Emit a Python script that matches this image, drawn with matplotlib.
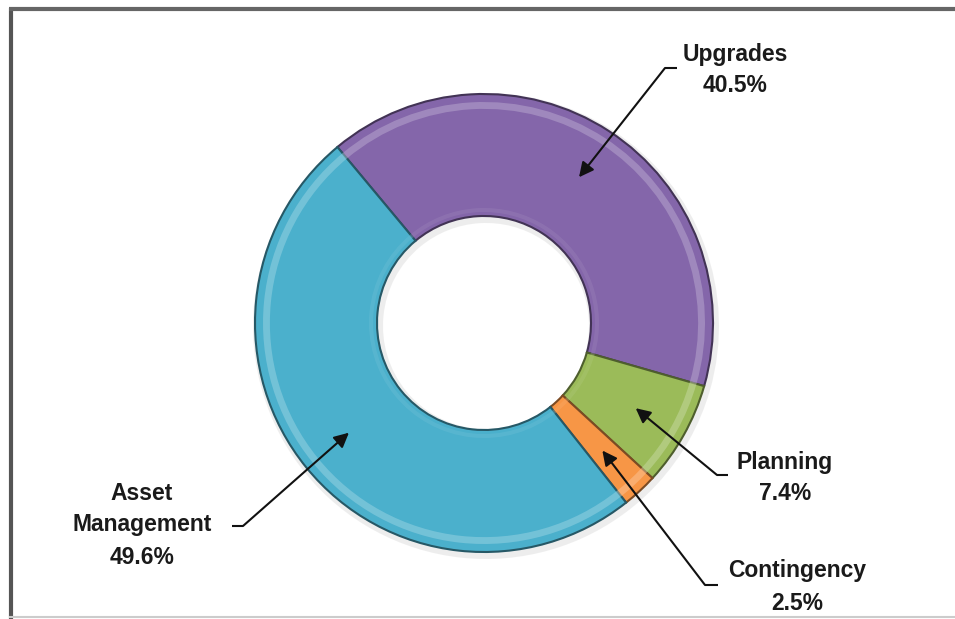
import matplotlib.pyplot as plt
import numpy as np
from matplotlib.colors import to_rgb

labels = ['Upgrades', 'Planning', 'Contingency', 'Asset\nManagement']
shares = [40.5, 7.4, 2.5, 49.6]
colors = ['#8466aa', '#9bbb59', '#f79646', '#4bb0cc']

plt.rcParams['font.family'] = ['Liberation Sans', 'DejaVu Sans']

W, H = 955, 619


def px(x, y):
    # picture pixels (y down) -> data coords (y up)
    return x, H - y


def shade(c, f):
    r = np.array(to_rgb(c))
    if f < 1:
        return tuple(r * f)
    return tuple(r + (1 - r) * (f - 1))


fig = plt.figure(figsize=(9.55, 6.19), dpi=100)
ax = fig.add_axes([0, 0, 1, 1])

cx, cy = px(484, 323)
R = 229
ring = 122
start = 129.8

# soft shadow
ax.pie(shares, colors=['#bbbbbb'] * 4, startangle=start, counterclock=False,
       radius=R + 4, center=(cx + 2, cy - 3),
       wedgeprops=dict(width=ring + 8, linewidth=0, alpha=0.25))

wedges, _ = ax.pie(shares, colors=colors, startangle=start, counterclock=False,
                   radius=R, center=(cx, cy),
                   wedgeprops=dict(width=ring, linewidth=1.5))
for w, c in zip(wedges, colors):
    w.set_edgecolor(shade(c, 0.5))

# bevel highlights
ax.pie(shares, colors=[shade(c, 1.45) for c in colors], startangle=start,
       counterclock=False, radius=R * 0.965, center=(cx, cy),
       wedgeprops=dict(width=R * 0.03, linewidth=0, alpha=0.5))
ax.pie(shares, colors=[shade(c, 1.2) for c in colors], startangle=start,
       counterclock=False, radius=R - ring + 8, center=(cx, cy),
       wedgeprops=dict(width=4, linewidth=0, alpha=0.35))

# labels with elbow arrows
text_pos = [px(735, 70), px(785, 478), px(797, 587), px(142, 525)]
corners = [px(665, 68), px(717, 475), px(705, 585), px(243, 526)]
ends = [px(677, 68), px(728, 475), px(718, 585), px(232, 526)]

cum = np.cumsum(shares) - np.array(shares) / 2
for lab, s, c_mid, tp, cr, en in zip(labels, shares, cum, text_pos, corners, ends):
    th = np.deg2rad(start - 360 * c_mid / 100)
    tip = (cx + 174 * np.cos(th), cy + 174 * np.sin(th))
    ax.plot([cr[0], en[0]], [cr[1], en[1]], color='#111111', lw=1.5,
            solid_capstyle='butt')
    ax.annotate('', xy=tip, xytext=cr,
                arrowprops=dict(arrowstyle='-|>', color='#111111', lw=1.5,
                                mutation_scale=22, shrinkA=0, shrinkB=0))
    ax.text(tp[0], tp[1], f'{lab}\n{s}%', ha='center', va='center',
            fontsize=16.5, fontweight='bold', color='#1a1a1a', linespacing=1.5)

# picture frame
ax.plot([10.5, 10.5], [0, H - 8], color='#555555', lw=3, solid_capstyle='butt')
ax.plot([9, W], [H - 9, H - 9], color='#666666', lw=3, solid_capstyle='butt')
ax.plot([10, W], [H - 617, H - 617], color='#cccccc', lw=1.5)

ax.set_xlim(0, W)
ax.set_ylim(0, H)
ax.set_aspect('equal', adjustable='datalim')
ax.axis('off')

fig.savefig('out.png', dpi=100)
